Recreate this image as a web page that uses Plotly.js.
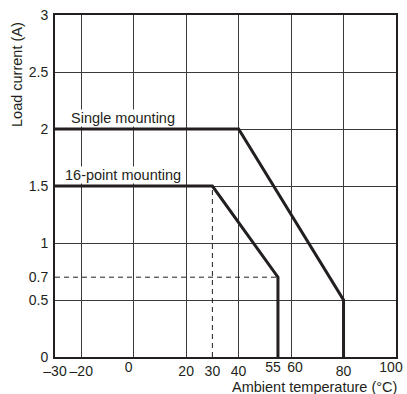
<!DOCTYPE html>
<html><head><meta charset="utf-8">
<script src="https://cdn.plot.ly/plotly-3.0.1.min.js"></script>
<style>body{margin:0;background:#fff}#chart{width:407px;height:394px}</style>
</head><body><div id="chart"></div>
<script>
var singleX = [-30, 40, 80, 80];
var singleY = [2, 2, 0.5, 0];
var pointX = [-30, 30, 55, 55];
var pointY = [1.5, 1.5, 0.7, 0];
var guideVX = [30, 30];
var guideVY = [0, 1.5];
var guideHX = [-30, 55];
var guideHY = [0.7, 0.7];
var xTickVals = [-30, -20, 0, 20, 30, 40, 55, 60, 80, 100];
var xTickText = ['\u201330', '\u201320', '0', '20', '30', '40', '55', '60', '80', '100'];
var yTickVals = [0, 0.5, 0.7, 1, 1.5, 2, 2.5, 3];
var yTickText = ['0', '0.5', '0.7', '1', '1.5', '2', '2.5', '3'];
var xGridVals = [-20, 0, 20, 40, 60, 80];
var yGridVals = [0.5, 1, 1.5, 2, 2.5];

// label nudges (styling only): values whose labels sit left / right of their gridline
var nudgeLeft = [0, 55, 100];
var nudgeRight = [60];

function pick(cond) {
  var v = [], t = [];
  xTickVals.forEach(function (x, i) { if (cond(x)) { v.push(x); t.push(xTickText[i]); } });
  return {v: v, t: t};
}
var plain = pick(function (x) { return nudgeLeft.indexOf(x) < 0 && nudgeRight.indexOf(x) < 0; });
var left = pick(function (x) { return nudgeLeft.indexOf(x) >= 0; });
var right = pick(function (x) { return nudgeRight.indexOf(x) >= 0; });

var ink = '#231f20';
var font = {family: 'Liberation Sans, Arial, sans-serif', size: 14.5, color: ink};
var tfont = {family: 'Liberation Sans, Arial, sans-serif', size: 14, color: ink};

var traces = [
  {x: guideVX, y: guideVY, mode: 'lines', line: {color: ink, width: 1, dash: '5px,4px'}, hoverinfo: 'skip'},
  {x: guideHX, y: guideHY, mode: 'lines', line: {color: ink, width: 1, dash: '5px,4px'}, hoverinfo: 'skip'},
  {x: singleX, y: singleY, mode: 'lines', line: {color: ink, width: 3}},
  {x: pointX, y: pointY, mode: 'lines', line: {color: ink, width: 3}},
  {x: [0], y: [0], xaxis: 'x2', yaxis: 'y2', mode: 'markers', marker: {opacity: 0}, hoverinfo: 'skip'},
  {x: [0], y: [0], xaxis: 'x3', yaxis: 'y2', mode: 'markers', marker: {opacity: 0}, hoverinfo: 'skip'},
  {x: [0], y: [0], xaxis: 'x4', yaxis: 'y2', mode: 'markers', marker: {opacity: 0}, hoverinfo: 'skip'}
];

var baseX = {range: [-30, 100], tickangle: 0, showgrid: false, zeroline: false, ticks: '', tickfont: tfont,
             ticklabelstandoff: 0, ticklabeloverflow: 'allow'};
function ax(extra) { return Object.assign({}, baseX, extra); }

var layout = {
  width: 407, height: 394,
  margin: {l: 55, r: 11, t: 15, b: 37},
  paper_bgcolor: '#fff', plot_bgcolor: '#fff',
  showlegend: false,
  font: font,
  xaxis: ax({tickvals: plain.v, ticktext: plain.t, showline: true, mirror: true, linecolor: ink, linewidth: 2}),
  yaxis: {range: [0, 3], tickvals: yTickVals, ticktext: yTickText, showgrid: false, zeroline: true, zerolinecolor: ink, zerolinewidth: 3,
          showline: true, mirror: true, linecolor: ink, linewidth: 2, ticks: '', tickfont: tfont, ticklabelstandoff: 2,
          ticklabeloverflow: 'allow'},
  xaxis2: {overlaying: 'x', range: [-30, 100], tickvals: xGridVals, showticklabels: false, showgrid: true,
           gridcolor: '#3a3a3a', gridwidth: 1, zeroline: false, showline: false, ticks: ''},
  xaxis3: ax({overlaying: 'x', tickvals: left.v, ticktext: left.t, ticklabelshift: -5, showline: false}),
  xaxis4: ax({overlaying: 'x', tickvals: right.v, ticktext: right.t, ticklabelshift: 4, showline: false}),
  yaxis2: {overlaying: 'y', range: [0, 3], tickvals: yGridVals, showticklabels: false, showgrid: true,
           gridcolor: '#3a3a3a', gridwidth: 1, zeroline: false, showline: false, ticks: ''},
  annotations: [
    {x: -3.9, y: 2, xref: 'x', yref: 'y', text: 'Single mounting', showarrow: false, yanchor: 'bottom', yshift: 2, font: font, bgcolor: '#fff', borderpad: 0},
    {x: -3.9, y: 1.5, xref: 'x', yref: 'y', text: '16-point mounting', showarrow: false, yanchor: 'bottom', yshift: 2, font: font, bgcolor: '#fff', borderpad: 0},
    {x: 1, y: 0, xref: 'paper', yref: 'paper', text: 'Ambient temperature (\u00b0C)', showarrow: false, xanchor: 'right', yanchor: 'top', yshift: -20, xshift: 3, font: font},
    {x: 0, y: 0.8246, xref: 'paper', yref: 'paper', text: 'Load current (A)', showarrow: false, textangle: -90, xanchor: 'center', yanchor: 'middle', xshift: -38, font: font}
  ]
};
Plotly.newPlot('chart', traces, layout, {displayModeBar: false, staticPlot: true});
</script></body></html>
